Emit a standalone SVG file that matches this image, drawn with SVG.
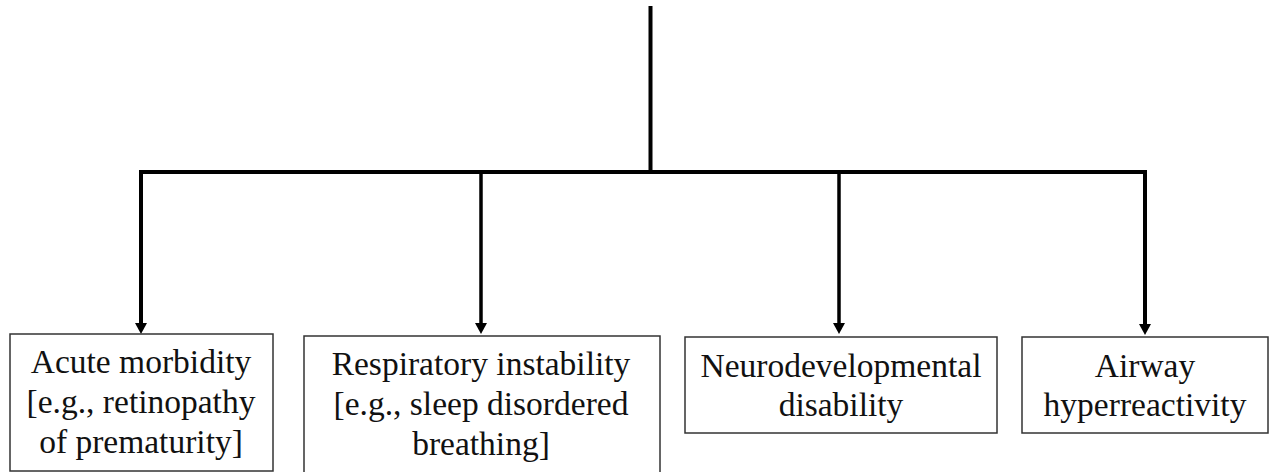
<svg xmlns="http://www.w3.org/2000/svg" width="1274" height="472" viewBox="0 0 1274 472">
  <style>
    .box { fill: #ffffff; stroke: #333333; stroke-width: 1.5; }
    text { font-family: 'Liberation Serif', 'DejaVu Serif', 'Times New Roman', Times, serif; font-size: 33.5px; fill: #111111; text-anchor: middle; }
    .wire { fill: none; stroke: #000000; stroke-width: 4; }
    .drop { fill: none; stroke: #000000; stroke-width: 3.5; }
  </style>
  <defs>
    <marker id="arrow" markerUnits="userSpaceOnUse" markerWidth="11" markerHeight="12" viewBox="0 0 11 12" refX="0" refY="6" orient="auto">
      <path d="M0,0 L11,6 L0,12 z" fill="#000000"/>
    </marker>
  </defs>
  <rect width="1274" height="472" fill="#ffffff"/>

  <g id="connectors">
    <line class="wire" x1="650.5" y1="6" x2="650.5" y2="172"/>
    <polyline class="wire" points="141,323 141,172 1145,172 1145,324" marker-end="url(#arrow)"/>
    <line class="wire" x1="141" y1="174" x2="141" y2="323" marker-end="url(#arrow)"/>
    <line class="drop" x1="481" y1="172" x2="481" y2="323" marker-end="url(#arrow)"/>
    <line class="drop" x1="839" y1="172" x2="839" y2="323" marker-end="url(#arrow)"/>
  </g>

  <g font-family="Liberation Serif, serif">
  <g id="node-acute">
    <rect class="box" x="10" y="334" width="263" height="137"/>
    <text x="141" y="373">Acute morbidity</text>
    <text x="141" y="413">[e.g., retinopathy</text>
    <text x="141" y="453">of prematurity]</text>
  </g>

  <g id="node-respiratory">
    <rect class="box" x="304" y="336" width="356" height="145"/>
    <text x="481" y="375">Respiratory instability</text>
    <text x="481" y="415">[e.g., sleep disordered</text>
    <text x="481" y="455">breathing]</text>
  </g>

  <g id="node-neuro">
    <rect class="box" x="685" y="337" width="312" height="96"/>
    <text x="841" y="377">Neurodevelopmental</text>
    <text x="841" y="416">disability</text>
  </g>

  <g id="node-airway">
    <rect class="box" x="1022" y="337" width="246" height="96"/>
    <text x="1145" y="377">Airway</text>
    <text x="1145" y="416">hyperreactivity</text>
  </g>
  </g>
</svg>
